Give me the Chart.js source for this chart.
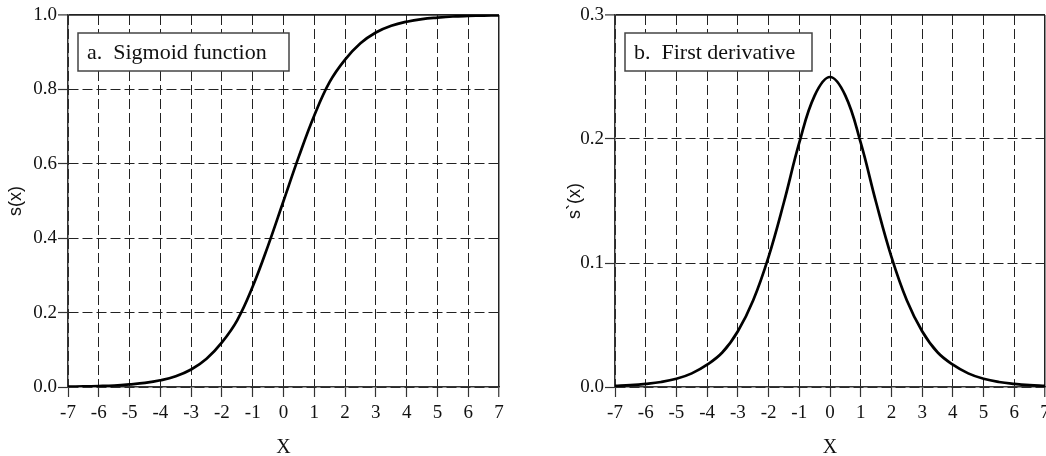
<!DOCTYPE html>
<html>
<head>
<meta charset="utf-8">
<script src="https://cdn.jsdelivr.net/npm/chart.js@4/dist/chart.umd.min.js"></script>
<style>
  html, body { margin: 0; padding: 0; background: #fff; overflow: hidden; }
  body { width: 1046px; height: 456px; position: relative; }
  .panel { position: absolute; top: 0; height: 456px; }
  #sigmoidPanel { left: 0; width: 520px; }
  #derivPanel { left: 520px; width: 560px; }
</style>
</head>
<body>
<div class="panel" id="sigmoidPanel"><canvas id="sigmoidChart"></canvas></div>
<div class="panel" id="derivPanel"><canvas id="derivChart"></canvas></div>
<script>
// sample positions along x
const xValues = [-7, -6.5, -6, -5.5, -5, -4.5, -4, -3.5, -3, -2.5, -2, -1.5, -1, -0.5, 0,
                 0.5, 1, 1.5, 2, 2.5, 3, 3.5, 4, 4.5, 5, 5.5, 6, 6.5, 7];
// s(x)
const sigmoidValues = [0.001, 0.0015, 0.0025, 0.004, 0.007, 0.011, 0.018, 0.029, 0.047, 0.076, 0.12, 0.18, 0.27, 0.38, 0.5,
                       0.62, 0.73, 0.82, 0.88, 0.924, 0.953, 0.971, 0.982, 0.989, 0.993, 0.996, 0.9975, 0.9985, 0.999];
// s'(x)
const derivValues = [0.0009, 0.0015, 0.0025, 0.004, 0.0066, 0.011, 0.018, 0.028, 0.045, 0.07, 0.105, 0.149, 0.197, 0.235, 0.25,
                     0.235, 0.197, 0.149, 0.105, 0.07, 0.045, 0.028, 0.018, 0.011, 0.0066, 0.004, 0.0025, 0.0015, 0.0009];

const xTicks = [-7, -6, -5, -4, -3, -2, -1, 0, 1, 2, 3, 4, 5, 6, 7];
const sigmoidYTicks = [0, 0.2, 0.4, 0.6, 0.8, 1.0];
const derivYTicks = [0, 0.1, 0.2, 0.3];

const serif = '"Liberation Serif", "Times New Roman", serif';
const sans = '"Liberation Sans", Arial, sans-serif';

// white caption box in the upper left of the plot
const captionBox = {
  id: 'captionBox',
  afterDraw(chart, args, opts) {
    const {ctx, chartArea} = chart;
    const x = chartArea.left + 10, y = chartArea.top + 18;
    ctx.save();
    ctx.fillStyle = '#fff';
    ctx.fillRect(x, y, opts.width, 38);
    ctx.strokeStyle = '#444';
    ctx.lineWidth = 1.5;
    ctx.strokeRect(x, y, opts.width, 38);
    ctx.fillStyle = '#111';
    ctx.font = '22px ' + serif;
    ctx.textBaseline = 'middle';
    ctx.fillText(opts.text, x + 9, y + 20);
    ctx.restore();
  }
};

function makeChart(id, values, yTicks, yMax, yTitle, caption, boxWidth, yWidth, titlePad, padRight) {
  const points = xValues.map((x, i) => ({x: x, y: values[i]}));
  return new Chart(document.getElementById(id), {
    type: 'scatter',
    data: {
      datasets: [{
        data: points,
        showLine: true,
        borderColor: '#000',
        borderWidth: 2.7,
        pointRadius: 0,
        tension: 0.4
      }]
    },
    options: {
      responsive: true,
      maintainAspectRatio: false,
      animation: false,
      layout: { padding: { top: 15, right: padRight, left: 0, bottom: 0 } },
      plugins: {
        legend: { display: false },
        tooltip: { enabled: false },
        captionBox: { text: caption, width: boxWidth }
      },
      scales: {
        x: {
          type: 'linear',
          min: -7,
          max: 7,
          afterBuildTicks: s => { s.ticks = xTicks.map(v => ({value: v})); },
          afterFit: s => { s.height = 69; },
          grid: {
            color: '#222',
            lineWidth: c => (c.tick && c.tick.value === 7) ? 1.5 : 1,
            tickLength: 10,
            tickColor: '#333',
            tickWidth: 1.2
          },
          border: {
            color: '#333',
            width: 1.5,
            dash: c => (c.tick && c.tick.value === 7) ? [] : [10, 4]
          },
          ticks: {
            color: '#111',
            font: { family: serif, size: 19 },
            padding: 5,
            maxRotation: 0,
            callback: v => String(v)
          },
          title: {
            display: true,
            text: 'X',
            color: '#111',
            font: { family: serif, size: 20 },
            padding: { top: 0, bottom: -4 }
          }
        },
        y: {
          min: 0,
          max: yMax,
          afterBuildTicks: s => { s.ticks = yTicks.map(v => ({value: v})); },
          afterFit: s => { s.width = yWidth; },
          grid: {
            color: '#222',
            lineWidth: c => (c.tick && c.tick.value === yMax) ? 1.8 : 1,
            tickLength: 10,
            tickColor: '#333',
            tickWidth: 1.2
          },
          border: {
            color: '#333',
            width: 1.5,
            dash: c => (c.tick && c.tick.value === yMax) ? [] : [10, 4]
          },
          ticks: {
            color: '#111',
            font: { family: serif, size: 19 },
            padding: 1,
            callback: v => v.toFixed(1)
          },
          title: {
            display: true,
            text: yTitle,
            color: '#111',
            font: { family: sans, size: 18 },
            padding: { top: titlePad, bottom: 0 }
          }
        }
      }
    },
    plugins: [captionBox]
  });
}

makeChart('sigmoidChart', sigmoidValues, sigmoidYTicks, 1.0, 's(x)', 'a.  Sigmoid function', 211, 68, 5, 21);
makeChart('derivChart', derivValues, derivYTicks, 0.3, 's`(x)', 'b.  First derivative', 187, 95, 44, 35);
</script>
</body>
</html>
